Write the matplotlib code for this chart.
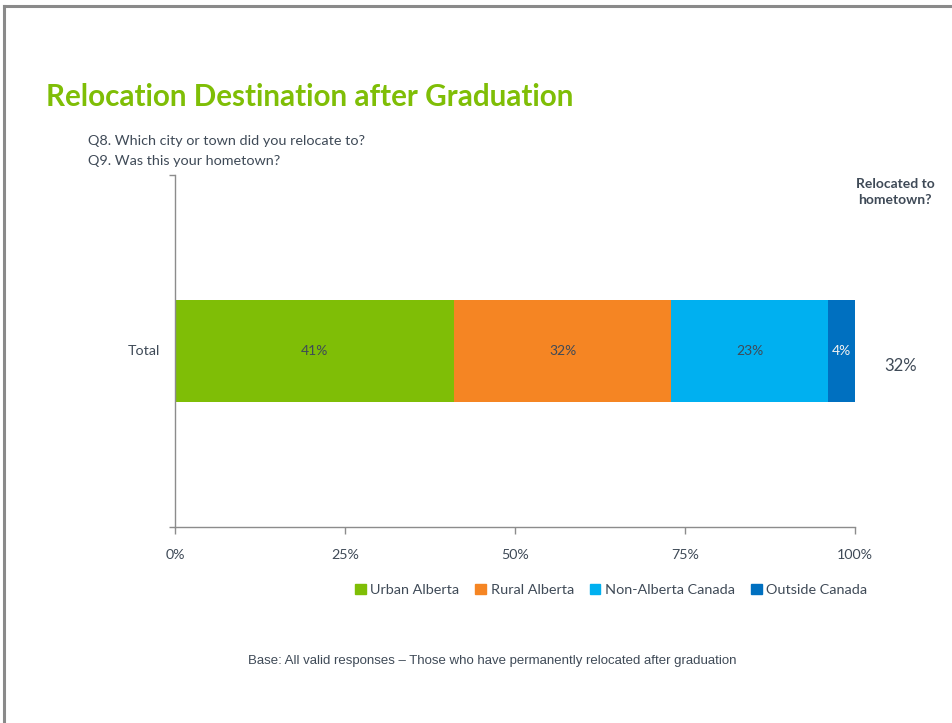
import matplotlib
matplotlib.use("Agg")
import matplotlib.pyplot as plt
from matplotlib.patches import Rectangle
from matplotlib.lines import Line2D

categories = ["Total"]
series_names = ["Urban Alberta", "Rural Alberta", "Non-Alberta Canada", "Outside Canada"]
values = [41, 32, 23, 4]
hometown_pct = [32]
xticks = [0, 25, 50, 75, 100]
xtick_labels = ["0%", "25%", "50%", "75%", "100%"]

colors = ["#7fbe06", "#f58523", "#00b0f0", "#0070c0"]
label_colors = ["#3f4a57", "#3f4a57", "#3f4a57", "#f2f2f2"]
txt = "#3f4a57"
axcol = "#8c8c8c"
FONT = "Lato"

W, H = 953, 723
fig = plt.figure(figsize=(W / 100, H / 100), dpi=100)

def fx(px):
    return px / W

def fy(py):
    return 1 - py / H

# frame lines of the slide
fig.add_artist(Line2D([fx(4), 1], [fy(6), fy(6)], color="#8a8a8a", lw=2.2))
fig.add_artist(Line2D([fx(4), fx(4)], [fy(6), 0], color="#8a8a8a", lw=2.2))

ax = fig.add_axes([fx(175), fy(527), fx(855) - fx(175), fy(175) - fy(527)])
left = 0
for v, c, lc in zip(values, colors, label_colors):
    ax.barh(0, v, left=left, height=0.29, color=c, edgecolor="none")
    ax.text(left + v / 2, 0, f"{v}%", ha="center", va="center", fontsize=10,
            color=lc, family=FONT)
    left += v

ax.set_xlim(0, 100)
ax.set_ylim(-0.5, 0.5)
ax.set_xticks(xticks)
ax.set_xticklabels(xtick_labels, family=FONT, fontsize=10.3, color=txt)
ax.set_yticks([-0.5, 0.5])
ax.set_yticklabels(["", ""])
ax.tick_params(axis="x", length=5, color=axcol, width=1, pad=11)
ax.tick_params(axis="y", length=4, color=axcol, width=1)
for s in ["top", "right"]:
    ax.spines[s].set_visible(False)
for s in ["left", "bottom"]:
    ax.spines[s].set_color(axcol)
    ax.spines[s].set_linewidth(1)
ax.text(-2.2, 0, categories[0], ha="right", va="center", fontsize=10.3, color=txt,
        family=FONT)

# hometown column
fig.text(fx(901), fy(366), f"{hometown_pct[0]}%", ha="center", va="center",
         fontsize=12, color=txt, family=FONT)
fig.text(fx(895), fy(192), "Relocated to\nhometown?", ha="center", va="center",
         fontsize=10, color=txt, family=FONT, fontweight="bold", linespacing=1.4)

# title and subtitle
fig.text(fx(46), fy(97), "Relocation Destination after Graduation", ha="left",
         va="center", fontsize=21.3, color="#7fbe06", family=FONT, fontweight="bold")
fig.text(fx(88), fy(141), "Q8. Which city or town did you relocate to?", ha="left",
         va="center", fontsize=10.4, color=txt, family=FONT)
fig.text(fx(88), fy(161), "Q9. Was this your hometown?", ha="left",
         va="center", fontsize=10.4, color=txt, family=FONT)

# legend
handles = [Rectangle((0, 0), 1, 1, color=c) for c in colors]
leg = fig.legend(handles, series_names, loc="center right",
                 bbox_to_anchor=(fx(880), fy(590)), ncol=4, frameon=False,
                 handlelength=0.75, handleheight=0.75, handletextpad=0.3,
                 columnspacing=1.1, prop={"family": FONT, "size": 10.4})
for t in leg.get_texts():
    t.set_color(txt)

fig.text(fx(492), fy(661),
         "Base: All valid responses \u2013 Those who have permanently relocated after graduation",
         ha="center", va="center", fontsize=9.5, color=txt, family="Liberation Sans")

fig.savefig("out.png", dpi=100)
